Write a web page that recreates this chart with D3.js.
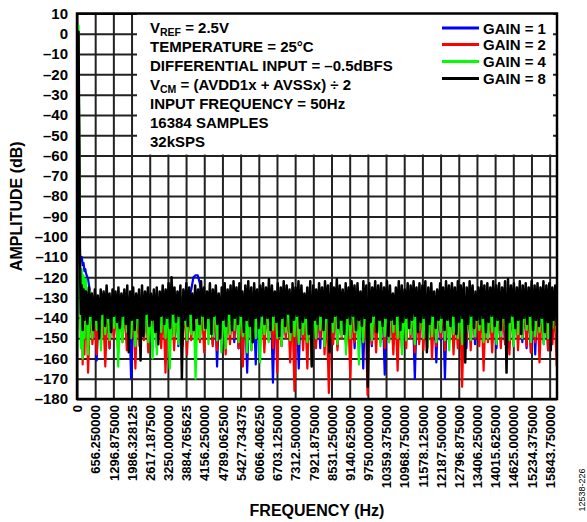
<!DOCTYPE html>
<html><head><meta charset="utf-8">
<script src="https://cdn.jsdelivr.net/npm/d3@7"></script>
<style>
body{margin:0;background:#fff}
svg text{font-family:"Liberation Sans",Arial,sans-serif;font-weight:bold;fill:#000}
</style>
</head><body>
<svg id="chart" width="587" height="522"></svg>
<script>
// ---------- tick labels ----------
const yTicks = [10,0,-10,-20,-30,-40,-50,-60,-70,-80,-90,-100,-110,-120,-130,-140,-150,-160,-170,-180];
const xTickLabels = ["0","656.250000","1296.875000","1986.328125","2617.187500","3250.000000","3884.765625","4156.250000","4789.062500","5427.734375","6066.406250","6703.125000","7312.500000","7921.875000","8531.250000","9140.625000","9750.000000","10359.375000","10968.750000","11578.125000","12187.500000","12796.875000","13406.250000","14015.625000","14625.000000","15234.375000","15843.750000"];
const xTickStep = 609.375;   // Hz between labelled grid lines
const seriesNames = ["GAIN = 1","GAIN = 2","GAIN = 4","GAIN = 8"];
const seriesColors = ["#0000ff","#ff0000","#00ff00","#000000"];

// ---------- low-frequency part (fundamental at 50 Hz) ----------
const headFreq  = [0,25,50,75,100,130,160,190,220,250,280];
const headGain1 = [-152,-48,0,-58,-109,-112,-110,-114,-113,-117,-116];
const headGain2 = [-132,-45,0,-60,-121,-150,-125,-163,-128,-158,-130];
const headGain4 = [-158,-38,4,-52,-117,-155,-116,-160,-119,-150,-121];
const headGain8 = [-146,-50,1,-55,-112,-138,-124,-146,-126,-141,-127];

// ---------- noise floor, evenly spaced bins from noiseStart to noiseEnd (Hz) ----------
const noiseStart = 300, noiseEnd = 16080;
const gain8Noise = [
-127,-143,-125,-139,-128,-146,-126,-141,-129,-150,-126,-138,-127,-144,-124,-140,-128,-147,-126,-139,
-127,-142,-125,-145,-128,-139,-126,-143,-124,-157,-127,-141,-125,-146,-128,-140,-126,-161,-124,-149,
-127,-138,-125,-144,-128,-141,-126,-147,-125,-153,-127,-139,-124,-143,-126,-140,-123,-145,-120,-138,
-125,-142,-127,-139,-124,-170,-126,-141,-123,-144,-125,-138,-128,-146,-124,-140,-126,-143,-122,-139,
-125,-145,-127,-140,-123,-148,-126,-139,-124,-143,-128,-150,-125,-141,-123,-144,-126,-138,-124,-146,
-122,-140,-125,-143,-123,-139,-127,-147,-124,-141,-122,-144,-125,-152,-123,-140,-126,-145,-124,-139,
-123,-143,-125,-140,-121,-146,-124,-139,-127,-142,-123,-149,-125,-140,-122,-144,-124,-138,-126,-147,
-123,-141,-125,-139,-122,-145,-124,-142,-128,-140,-125,-148,-122,-164,-124,-141,-126,-143,-123,-139,
-125,-146,-122,-140,-124,-157,-123,-142,-125,-139,-121,-145,-124,-141,-126,-148,-123,-140,-125,-143,
-122,-139,-124,-146,-123,-141,-127,-144,-122,-140,-124,-174,-123,-142,-125,-139,-122,-147,-124,-141,
-123,-144,-125,-140,-122,-149,-124,-141,-128,-143,-125,-139,-122,-146,-124,-142,-126,-140,-123,-145,
-124,-141,-122,-139,-125,-147,-123,-142,-124,-140,-122,-157,-125,-143,-123,-139,-127,-145,-126,-141,
-123,-140,-125,-146,-122,-141,-124,-144,-123,-139,-125,-148,-122,-142,-124,-140,-123,-162,-125,-143,
-122,-139,-124,-145,-127,-141,-125,-143,-122,-140,-124,-147,-123,-142,-125,-139,-122,-144,-124,-141,
-123,-146,-125,-140,-122,-167,-121,-142,-124,-139,-123,-145,-125,-141,-122,-148,-124,-140,-123,-143,
-125,-139,-122,-146,-124,-141,-123,-144,-125,-140,-122,-147,-124,-142,-123,-156,-125,-141,-124,-144];
const gain4Noise = [
-121,-158,-127,-150,-130,-146,-132,-156,-129,-148,-133,-151,-130,-145,-131,-164,-134,-152,-129,-147,
-132,-150,-130,-154,-133,-146,-129,-149,-131,-152,-134,-160,-130,-158,-132,-147,-129,-150,-133,-165,
-130,-149,-132,-153,-129,-146,-134,-151,-131,-148,-130,-170,-133,-150,-129,-146,-132,-153,-130,-149,
-131,-151,-129,-157,-133,-155,-130,-148,-132,-146,-129,-152,-134,-149,-131,-157,-130,-156,-132,-150,
-129,-162,-133,-148,-130,-152,-132,-146,-129,-150,-131,-154,-133,-147,-130,-151,-132,-149,-129,-153,
-131,-148,-133,-152,-130,-163,-132,-150,-129,-146,-131,-154,-130,-151,-133,-147,-129,-153,-132,-149,
-130,-158,-131,-150,-129,-147,-133,-163,-130,-152,-132,-148,-129,-151,-131,-146,-133,-154,-130,-149,
-132,-152,-129,-147,-131,-150,-130,-158,-133,-151,-129,-148,-132,-153,-130,-146,-131,-150,-129,-155,
-133,-149,-130,-152,-132,-147,-129,-151,-131,-156,-130,-148,-133,-150,-129,-153,-132,-147,-130,-151,
-131,-149,-129,-146,-133,-152,-130,-150,-132,-147,-129,-153,-131,-149,-130,-146,-133,-151,-129,-154,
-132,-148,-130,-150,-131,-146,-129,-152,-133,-149,-130,-147,-132,-153,-129,-150,-131,-145,-126,-148];
const gain2Noise = [
-125,-167,-133,-153,-135,-158,-132,-151,-136,-164,-134,-155,-132,-150,-137,-157,-133,-152,-135,-156,
-132,-150,-136,-165,-134,-154,-133,-151,-135,-157,-132,-153,-136,-150,-134,-155,-133,-167,-135,-152,
-132,-156,-136,-150,-134,-154,-133,-158,-135,-151,-132,-155,-136,-152,-134,-157,-133,-150,-135,-154,
-132,-156,-136,-151,-134,-158,-133,-153,-135,-150,-132,-155,-136,-164,-134,-152,-133,-156,-135,-150,
-132,-154,-136,-157,-134,-151,-133,-155,-135,-167,-132,-153,-136,-150,-134,-162,-133,-176,-135,-152,
-132,-156,-136,-165,-134,-151,-133,-155,-135,-150,-132,-158,-136,-177,-134,-153,-133,-156,-135,-150,
-132,-154,-136,-170,-134,-152,-133,-155,-135,-151,-132,-178,-136,-153,-134,-157,-133,-150,-135,-155,
-132,-152,-136,-158,-134,-166,-133,-151,-135,-155,-132,-150,-136,-157,-134,-153,-133,-156,-135,-151,
-132,-160,-136,-154,-134,-150,-133,-156,-135,-152,-132,-158,-136,-155,-134,-174,-133,-151,-135,-156,
-132,-150,-136,-154,-134,-166,-133,-152,-135,-157,-132,-150,-136,-155,-134,-153,-133,-158,-135,-151,
-132,-156,-136,-150,-134,-154,-133,-157,-135,-152,-132,-162,-136,-151,-134,-156,-133,-153,-135,-164];
const gain1Noise = [
-118,-121,-128,-150,-134,-161,-131,-148,-133,-152,-130,-155,-134,-149,-132,-153,-131,-147,-133,-151,
-130,-170,-134,-150,-132,-154,-131,-148,-133,-152,-130,-150,-134,-155,-132,-148,-131,-151,-133,-153,
-130,-149,-134,-154,-132,-148,-131,-152,-130,-126,-120,-119,-119,-123,-132,-151,-131,-148,-133,-153,
-130,-164,-134,-150,-132,-154,-131,-148,-133,-152,-130,-155,-134,-149,-132,-167,-131,-151,-133,-163,
-130,-150,-134,-153,-132,-148,-131,-172,-133,-151,-130,-154,-134,-149,-132,-152,-131,-155,-133,-165,
-130,-150,-134,-153,-132,-148,-131,-152,-133,-155,-130,-149,-134,-153,-132,-150,-131,-154,-133,-148,
-130,-152,-134,-150,-132,-155,-131,-149,-133,-165,-130,-151,-134,-154,-132,-148,-131,-152,-133,-168,
-130,-150,-134,-153,-132,-149,-131,-155,-133,-151,-130,-148,-134,-170,-132,-152,-131,-150,-133,-154,
-130,-149,-134,-162,-132,-151,-131,-170,-133,-150,-130,-153,-134,-148,-132,-152,-131,-155,-133,-149,
-130,-153,-134,-150,-132,-154,-131,-148,-133,-152,-130,-155,-134,-149,-132,-153,-131,-150,-133,-154,
-130,-148,-134,-152,-132,-155,-131,-157,-133,-158,-130,-151,-134,-153,-132,-156,-131,-150,-133,-152];

// ---------- annotation ----------
const noteLines = [
  [["V",""],["REF","sub"],[" = 2.5V",""]],
  [["TEMPERATURE = 25°C",""]],
  [["DIFFERENTIAL INPUT = –0.5dBFS",""]],
  [["V",""],["CM","sub"],[" = (AVDD1x + AVSSx) ÷ 2",""]],
  [["INPUT FREQUENCY = 50Hz",""]],
  [["16384 SAMPLES",""]],
  [["32kSPS",""]]
];

// ---------- build series ----------
function build(head, noise){
  const pts = head.map((v,i)=>({f:headFreq[i], v}));
  const step = (noiseEnd-noiseStart)/(noise.length-1);
  noise.forEach((v,i)=>pts.push({f:noiseStart+i*step, v}));
  return pts;
}
const series = [
  build(headGain1, gain1Noise),
  build(headGain2, gain2Noise),
  build(headGain4, gain4Noise),
  build(headGain8, gain8Noise)
];
const strokeW = [2.2,2.2,2.2,2.5];

// ---------- layout ----------
const L=77, R=557, T=13.5, B=399;
const svg = d3.select("#chart");
const x = d3.scaleLinear().domain([0,16090]).range([L,R]);
const y = d3.scaleLinear().domain([10,-180]).range([T,B]);

// grid + y labels
const yAxis = d3.axisLeft(y).tickValues(yTicks).tickSize(-(R-L)).tickPadding(9)
  .tickFormat(d => d<0 ? "–"+Math.abs(d) : String(d));
const gy = svg.append("g").attr("transform",`translate(${L},0)`).call(yAxis);
gy.select(".domain").remove();
gy.selectAll("line").attr("stroke","#222").attr("stroke-width",2);
gy.selectAll("text").style("font-size","15px").attr("fill","#000");

const tickFreqs = xTickLabels.map((_,k)=>k*xTickStep);
const xAxis = d3.axisBottom(x).tickValues(tickFreqs).tickSize(-(B-T))
  .tickFormat((d,i)=>xTickLabels[i]);
const gx = svg.append("g").attr("transform",`translate(0,${B})`).call(xAxis);
gx.select(".domain").remove();
gx.selectAll("line").attr("stroke","#222").attr("stroke-width",2);
gx.selectAll("text").style("font-size","13px").attr("fill","#000")
  .attr("transform","rotate(-90)").attr("text-anchor","end")
  .attr("x",-6).attr("y",0).attr("dy","0.36em");

// data
svg.append("clipPath").attr("id","clip").append("rect")
  .attr("x",L).attr("y",T).attr("width",R-L).attr("height",B-T);
const line = d3.line().x(d=>x(d.f)).y(d=>y(d.v));
const gd = svg.append("g").attr("clip-path","url(#clip)");
series.forEach((s,i)=>{
  gd.append("path").datum(s).attr("d",line).attr("fill","none")
    .attr("stroke",seriesColors[i]).attr("stroke-width",strokeW[i])
    .attr("stroke-linejoin","round");
});

// white annotation box
svg.append("rect").attr("x",137).attr("y",T).attr("width",416).attr("height",y(-60)-T-1)
  .attr("fill","#fff");

// annotation text
const baselines = [33,52,71,90,108.5,127.5,146.5];
noteLines.forEach((parts,i)=>{
  const t = svg.append("text").attr("x",150).attr("y",baselines[i]).style("font-size","15px");
  parts.forEach(([s,kind])=>{
    const ts = t.append("tspan").text(s);
    if(kind==="sub") ts.style("font-size","10.5px").attr("dy",3);
    else if(t.selectAll("tspan").size()>1) ts.attr("dy",-3);
  });
});

// legend
const legY = [28,44.5,61.5,78.5];
seriesNames.forEach((n,i)=>{
  svg.append("line").attr("x1",442).attr("x2",479).attr("y1",legY[i]).attr("y2",legY[i])
    .attr("stroke",seriesColors[i]).attr("stroke-width",3);
  svg.append("text").attr("x",483).attr("y",legY[i]+5.5).style("font-size","15px").text(n);
});

// border
svg.append("rect").attr("x",L).attr("y",T).attr("width",R-L).attr("height",B-T)
  .attr("fill","none").attr("stroke","#000").attr("stroke-width",2.5);

// axis titles
svg.append("text").attr("transform",`translate(22,${(T+B)/2}) rotate(-90)`)
  .attr("text-anchor","middle").style("font-size","16px").text("AMPLITUDE (dB)");
svg.append("text").attr("x",(L+R)/2).attr("y",516).attr("text-anchor","middle")
  .style("font-size","16px").text("FREQUENCY (Hz)");
svg.append("text").attr("transform","translate(585,490) rotate(-90)")
  .attr("text-anchor","middle").style("font-size","9px").style("font-weight","normal")
  .attr("fill","#444").text("12538-226");
</script>
</body></html>
